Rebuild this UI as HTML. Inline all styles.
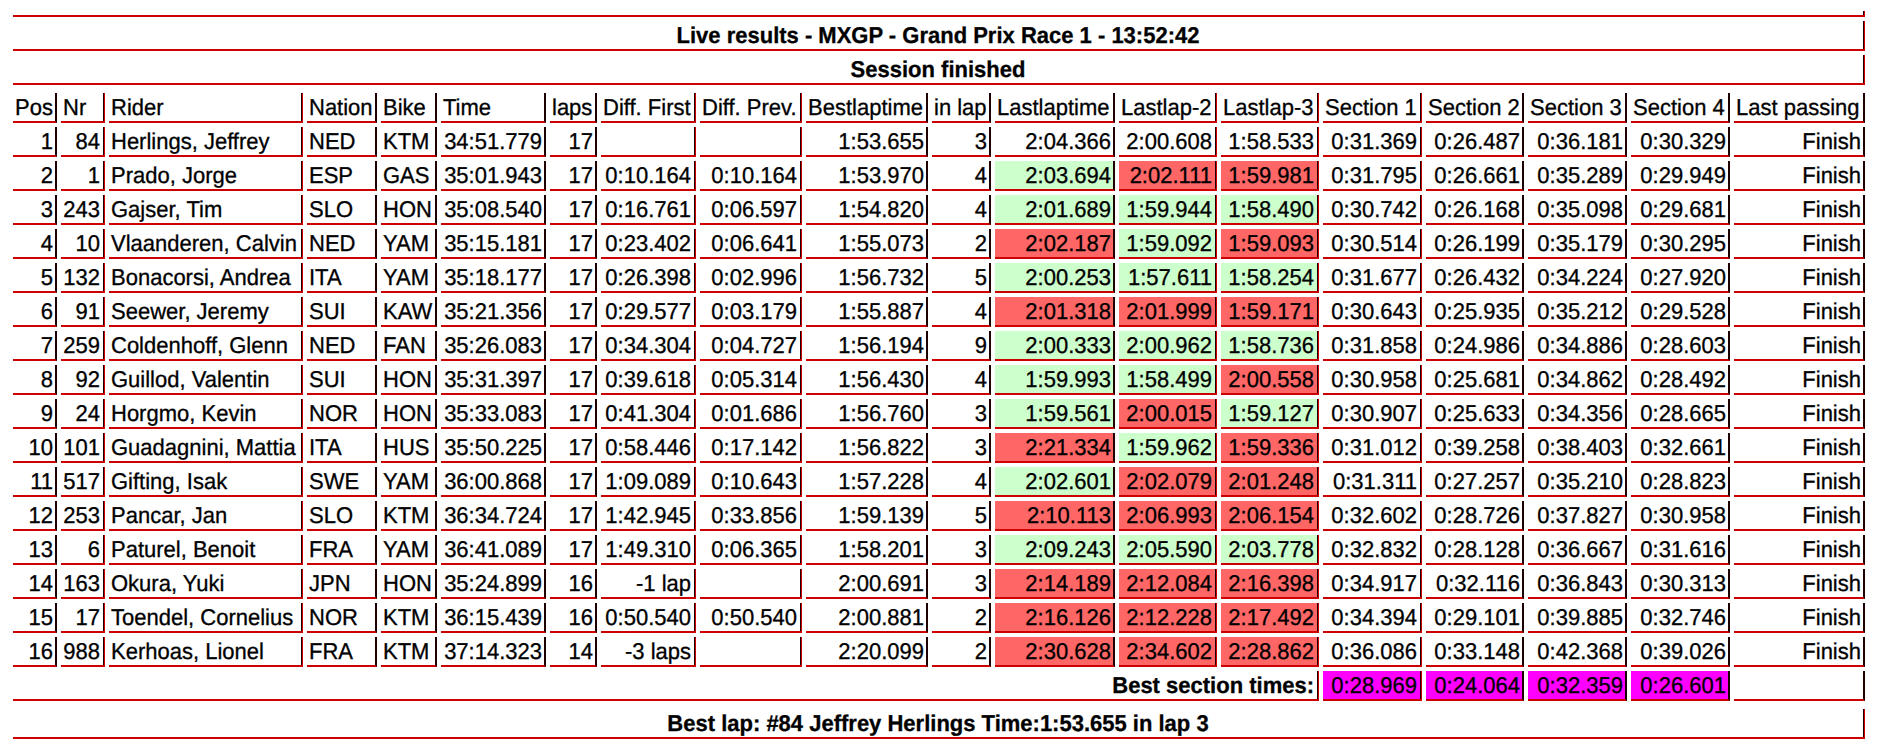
<!DOCTYPE html>
<html lang="en">
<head>
<meta charset="utf-8">
<title>Live results - MXGP - Grand Prix Race 1</title>
<style>
html,body{margin:0;padding:0;background:#fff;}
body{width:1878px;height:741px;overflow:hidden;position:relative;font-family:"Liberation Sans",Arial,Helvetica,sans-serif;font-size:22px;color:#000;text-rendering:geometricPrecision;}
table{position:absolute;left:9px;top:7px;width:1860px;table-layout:fixed;border-collapse:separate;border-spacing:4px;border:0;}
td,th{padding:2px;height:24px;line-height:24px;border:0;border-bottom:2px solid #cc0000;border-right:2px solid #1f0000;font-weight:normal;text-align:left;white-space:nowrap;overflow:hidden;box-sizing:content-box;}
th.t{font-weight:bold;text-align:center;}
th.b{font-weight:bold;text-align:right;}
td.r{text-align:right;}
td.G{background:#ccffcc;}
td.R{background:#ff6666;}
td.M{background:#ff00ff;text-align:right;}
td span,th span{display:inline-block;transform-origin:50% 19px;transform:translateY(1px) scaleY(1.04);-webkit-text-stroke:0.3px #000;}
td.x,th.x{border-right:1px solid #cc0000;padding-right:4px;box-shadow:inset -1px 0 0 #1f0000;}
th.w,td.w{padding-right:3px;}
tr.z td{height:0;padding:0;border:0;line-height:0;font-size:0;}
tr.e td{height:0;line-height:0;font-size:0;}
</style>
</head>
<body>
<table cellspacing="2" cellpadding="1">
<colgroup>
<col style="width:44px">
<col style="width:44px">
<col style="width:194px">
<col style="width:70px">
<col style="width:56px">
<col style="width:105px">
<col style="width:47px">
<col style="width:95px">
<col style="width:102px">
<col style="width:122px">
<col style="width:59px">
<col style="width:120px">
<col style="width:98px">
<col style="width:98px">
<col style="width:99px">
<col style="width:98px">
<col style="width:99px">
<col style="width:99px">
<col style="width:131px">
</colgroup>
<tr class="e"><td class="x w" colspan="19"></td></tr>
<tr><th class="t x w" colspan="19"><span>Live results - MXGP - Grand Prix Race 1 - 13:52:42</span></th></tr>
<tr><th class="t x w" colspan="19"><span>Session finished</span></th></tr>
<tr class="z"><td colspan="19"></td></tr>
<tr><td><span>Pos</span></td><td class="x"><span>Nr</span></td><td class="x"><span>Rider</span></td><td><span>Nation</span></td><td><span>Bike</span></td><td><span>Time</span></td><td><span>laps</span></td><td class="x"><span>Diff. First</span></td><td class="x"><span>Diff. Prev.</span></td><td><span>Bestlaptime</span></td><td><span>in lap</span></td><td><span>Lastlaptime</span></td><td class="x"><span>Lastlap-2</span></td><td class="x"><span>Lastlap-3</span></td><td class="x"><span>Section 1</span></td><td><span>Section 2</span></td><td><span>Section 3</span></td><td><span>Section 4</span></td><td><span>Last passing</span></td></tr>
<tr><td class="r"><span>1</span></td><td class="r x"><span>84</span></td><td class="x"><span>Herlings, Jeffrey</span></td><td><span>NED</span></td><td><span>KTM</span></td><td class="r"><span>34:51.779</span></td><td class="r"><span>17</span></td><td class="r x"></td><td class="r x"></td><td class="r"><span>1:53.655</span></td><td class="r"><span>3</span></td><td class="r"><span>2:04.366</span></td><td class="r x"><span>2:00.608</span></td><td class="r x"><span>1:58.533</span></td><td class="r x"><span>0:31.369</span></td><td class="r"><span>0:26.487</span></td><td class="r"><span>0:36.181</span></td><td class="r"><span>0:30.329</span></td><td class="r"><span>Finish</span></td></tr>
<tr><td class="r"><span>2</span></td><td class="r x"><span>1</span></td><td class="x"><span>Prado, Jorge</span></td><td><span>ESP</span></td><td><span>GAS</span></td><td class="r"><span>35:01.943</span></td><td class="r"><span>17</span></td><td class="r x"><span>0:10.164</span></td><td class="r x"><span>0:10.164</span></td><td class="r"><span>1:53.970</span></td><td class="r"><span>4</span></td><td class="r G"><span>2:03.694</span></td><td class="r x R"><span>2:02.111</span></td><td class="r x R"><span>1:59.981</span></td><td class="r x"><span>0:31.795</span></td><td class="r"><span>0:26.661</span></td><td class="r"><span>0:35.289</span></td><td class="r"><span>0:29.949</span></td><td class="r"><span>Finish</span></td></tr>
<tr><td class="r"><span>3</span></td><td class="r x"><span>243</span></td><td class="x"><span>Gajser, Tim</span></td><td><span>SLO</span></td><td><span>HON</span></td><td class="r"><span>35:08.540</span></td><td class="r"><span>17</span></td><td class="r x"><span>0:16.761</span></td><td class="r x"><span>0:06.597</span></td><td class="r"><span>1:54.820</span></td><td class="r"><span>4</span></td><td class="r G"><span>2:01.689</span></td><td class="r x G"><span>1:59.944</span></td><td class="r x G"><span>1:58.490</span></td><td class="r x"><span>0:30.742</span></td><td class="r"><span>0:26.168</span></td><td class="r"><span>0:35.098</span></td><td class="r"><span>0:29.681</span></td><td class="r"><span>Finish</span></td></tr>
<tr><td class="r"><span>4</span></td><td class="r x"><span>10</span></td><td class="x"><span>Vlaanderen, Calvin</span></td><td><span>NED</span></td><td><span>YAM</span></td><td class="r"><span>35:15.181</span></td><td class="r"><span>17</span></td><td class="r x"><span>0:23.402</span></td><td class="r x"><span>0:06.641</span></td><td class="r"><span>1:55.073</span></td><td class="r"><span>2</span></td><td class="r R"><span>2:02.187</span></td><td class="r x G"><span>1:59.092</span></td><td class="r x R"><span>1:59.093</span></td><td class="r x"><span>0:30.514</span></td><td class="r"><span>0:26.199</span></td><td class="r"><span>0:35.179</span></td><td class="r"><span>0:30.295</span></td><td class="r"><span>Finish</span></td></tr>
<tr><td class="r"><span>5</span></td><td class="r x"><span>132</span></td><td class="x"><span>Bonacorsi, Andrea</span></td><td><span>ITA</span></td><td><span>YAM</span></td><td class="r"><span>35:18.177</span></td><td class="r"><span>17</span></td><td class="r x"><span>0:26.398</span></td><td class="r x"><span>0:02.996</span></td><td class="r"><span>1:56.732</span></td><td class="r"><span>5</span></td><td class="r G"><span>2:00.253</span></td><td class="r x G"><span>1:57.611</span></td><td class="r x G"><span>1:58.254</span></td><td class="r x"><span>0:31.677</span></td><td class="r"><span>0:26.432</span></td><td class="r"><span>0:34.224</span></td><td class="r"><span>0:27.920</span></td><td class="r"><span>Finish</span></td></tr>
<tr><td class="r"><span>6</span></td><td class="r x"><span>91</span></td><td class="x"><span>Seewer, Jeremy</span></td><td><span>SUI</span></td><td><span>KAW</span></td><td class="r"><span>35:21.356</span></td><td class="r"><span>17</span></td><td class="r x"><span>0:29.577</span></td><td class="r x"><span>0:03.179</span></td><td class="r"><span>1:55.887</span></td><td class="r"><span>4</span></td><td class="r R"><span>2:01.318</span></td><td class="r x R"><span>2:01.999</span></td><td class="r x R"><span>1:59.171</span></td><td class="r x"><span>0:30.643</span></td><td class="r"><span>0:25.935</span></td><td class="r"><span>0:35.212</span></td><td class="r"><span>0:29.528</span></td><td class="r"><span>Finish</span></td></tr>
<tr><td class="r"><span>7</span></td><td class="r x"><span>259</span></td><td class="x"><span>Coldenhoff, Glenn</span></td><td><span>NED</span></td><td><span>FAN</span></td><td class="r"><span>35:26.083</span></td><td class="r"><span>17</span></td><td class="r x"><span>0:34.304</span></td><td class="r x"><span>0:04.727</span></td><td class="r"><span>1:56.194</span></td><td class="r"><span>9</span></td><td class="r G"><span>2:00.333</span></td><td class="r x G"><span>2:00.962</span></td><td class="r x G"><span>1:58.736</span></td><td class="r x"><span>0:31.858</span></td><td class="r"><span>0:24.986</span></td><td class="r"><span>0:34.886</span></td><td class="r"><span>0:28.603</span></td><td class="r"><span>Finish</span></td></tr>
<tr><td class="r"><span>8</span></td><td class="r x"><span>92</span></td><td class="x"><span>Guillod, Valentin</span></td><td><span>SUI</span></td><td><span>HON</span></td><td class="r"><span>35:31.397</span></td><td class="r"><span>17</span></td><td class="r x"><span>0:39.618</span></td><td class="r x"><span>0:05.314</span></td><td class="r"><span>1:56.430</span></td><td class="r"><span>4</span></td><td class="r G"><span>1:59.993</span></td><td class="r x G"><span>1:58.499</span></td><td class="r x R"><span>2:00.558</span></td><td class="r x"><span>0:30.958</span></td><td class="r"><span>0:25.681</span></td><td class="r"><span>0:34.862</span></td><td class="r"><span>0:28.492</span></td><td class="r"><span>Finish</span></td></tr>
<tr><td class="r"><span>9</span></td><td class="r x"><span>24</span></td><td class="x"><span>Horgmo, Kevin</span></td><td><span>NOR</span></td><td><span>HON</span></td><td class="r"><span>35:33.083</span></td><td class="r"><span>17</span></td><td class="r x"><span>0:41.304</span></td><td class="r x"><span>0:01.686</span></td><td class="r"><span>1:56.760</span></td><td class="r"><span>3</span></td><td class="r G"><span>1:59.561</span></td><td class="r x R"><span>2:00.015</span></td><td class="r x G"><span>1:59.127</span></td><td class="r x"><span>0:30.907</span></td><td class="r"><span>0:25.633</span></td><td class="r"><span>0:34.356</span></td><td class="r"><span>0:28.665</span></td><td class="r"><span>Finish</span></td></tr>
<tr><td class="r"><span>10</span></td><td class="r x"><span>101</span></td><td class="x"><span>Guadagnini, Mattia</span></td><td><span>ITA</span></td><td><span>HUS</span></td><td class="r"><span>35:50.225</span></td><td class="r"><span>17</span></td><td class="r x"><span>0:58.446</span></td><td class="r x"><span>0:17.142</span></td><td class="r"><span>1:56.822</span></td><td class="r"><span>3</span></td><td class="r R"><span>2:21.334</span></td><td class="r x G"><span>1:59.962</span></td><td class="r x R"><span>1:59.336</span></td><td class="r x"><span>0:31.012</span></td><td class="r"><span>0:39.258</span></td><td class="r"><span>0:38.403</span></td><td class="r"><span>0:32.661</span></td><td class="r"><span>Finish</span></td></tr>
<tr><td class="r"><span>11</span></td><td class="r x"><span>517</span></td><td class="x"><span>Gifting, Isak</span></td><td><span>SWE</span></td><td><span>YAM</span></td><td class="r"><span>36:00.868</span></td><td class="r"><span>17</span></td><td class="r x"><span>1:09.089</span></td><td class="r x"><span>0:10.643</span></td><td class="r"><span>1:57.228</span></td><td class="r"><span>4</span></td><td class="r G"><span>2:02.601</span></td><td class="r x R"><span>2:02.079</span></td><td class="r x R"><span>2:01.248</span></td><td class="r x"><span>0:31.311</span></td><td class="r"><span>0:27.257</span></td><td class="r"><span>0:35.210</span></td><td class="r"><span>0:28.823</span></td><td class="r"><span>Finish</span></td></tr>
<tr><td class="r"><span>12</span></td><td class="r x"><span>253</span></td><td class="x"><span>Pancar, Jan</span></td><td><span>SLO</span></td><td><span>KTM</span></td><td class="r"><span>36:34.724</span></td><td class="r"><span>17</span></td><td class="r x"><span>1:42.945</span></td><td class="r x"><span>0:33.856</span></td><td class="r"><span>1:59.139</span></td><td class="r"><span>5</span></td><td class="r R"><span>2:10.113</span></td><td class="r x R"><span>2:06.993</span></td><td class="r x R"><span>2:06.154</span></td><td class="r x"><span>0:32.602</span></td><td class="r"><span>0:28.726</span></td><td class="r"><span>0:37.827</span></td><td class="r"><span>0:30.958</span></td><td class="r"><span>Finish</span></td></tr>
<tr><td class="r"><span>13</span></td><td class="r x"><span>6</span></td><td class="x"><span>Paturel, Benoit</span></td><td><span>FRA</span></td><td><span>YAM</span></td><td class="r"><span>36:41.089</span></td><td class="r"><span>17</span></td><td class="r x"><span>1:49.310</span></td><td class="r x"><span>0:06.365</span></td><td class="r"><span>1:58.201</span></td><td class="r"><span>3</span></td><td class="r G"><span>2:09.243</span></td><td class="r x G"><span>2:05.590</span></td><td class="r x G"><span>2:03.778</span></td><td class="r x"><span>0:32.832</span></td><td class="r"><span>0:28.128</span></td><td class="r"><span>0:36.667</span></td><td class="r"><span>0:31.616</span></td><td class="r"><span>Finish</span></td></tr>
<tr><td class="r"><span>14</span></td><td class="r x"><span>163</span></td><td class="x"><span>Okura, Yuki</span></td><td><span>JPN</span></td><td><span>HON</span></td><td class="r"><span>35:24.899</span></td><td class="r"><span>16</span></td><td class="r x"><span>-1 lap</span></td><td class="r x"></td><td class="r"><span>2:00.691</span></td><td class="r"><span>3</span></td><td class="r R"><span>2:14.189</span></td><td class="r x R"><span>2:12.084</span></td><td class="r x R"><span>2:16.398</span></td><td class="r x"><span>0:34.917</span></td><td class="r"><span>0:32.116</span></td><td class="r"><span>0:36.843</span></td><td class="r"><span>0:30.313</span></td><td class="r"><span>Finish</span></td></tr>
<tr><td class="r"><span>15</span></td><td class="r x"><span>17</span></td><td class="x"><span>Toendel, Cornelius</span></td><td><span>NOR</span></td><td><span>KTM</span></td><td class="r"><span>36:15.439</span></td><td class="r"><span>16</span></td><td class="r x"><span>0:50.540</span></td><td class="r x"><span>0:50.540</span></td><td class="r"><span>2:00.881</span></td><td class="r"><span>2</span></td><td class="r R"><span>2:16.126</span></td><td class="r x R"><span>2:12.228</span></td><td class="r x R"><span>2:17.492</span></td><td class="r x"><span>0:34.394</span></td><td class="r"><span>0:29.101</span></td><td class="r"><span>0:39.885</span></td><td class="r"><span>0:32.746</span></td><td class="r"><span>Finish</span></td></tr>
<tr><td class="r"><span>16</span></td><td class="r x"><span>988</span></td><td class="x"><span>Kerhoas, Lionel</span></td><td><span>FRA</span></td><td><span>KTM</span></td><td class="r"><span>37:14.323</span></td><td class="r"><span>14</span></td><td class="r x"><span>-3 laps</span></td><td class="r x"></td><td class="r"><span>2:20.099</span></td><td class="r"><span>2</span></td><td class="r R"><span>2:30.628</span></td><td class="r x R"><span>2:34.602</span></td><td class="r x R"><span>2:28.862</span></td><td class="r x"><span>0:36.086</span></td><td class="r"><span>0:33.148</span></td><td class="r"><span>0:42.368</span></td><td class="r"><span>0:39.026</span></td><td class="r"><span>Finish</span></td></tr>
<tr><th class="b x" colspan="14"><span>Best section times:</span></th><td class="M x"><span>0:28.969</span></td><td class="M"><span>0:24.064</span></td><td class="M"><span>0:32.359</span></td><td class="M"><span>0:26.601</span></td><td></td></tr>
<tr class="z"><td colspan="19"></td></tr>
<tr><th class="t x w" colspan="19"><span>Best lap: #84 Jeffrey Herlings Time:1:53.655 in lap 3</span></th></tr>
</table>
</body>
</html>
